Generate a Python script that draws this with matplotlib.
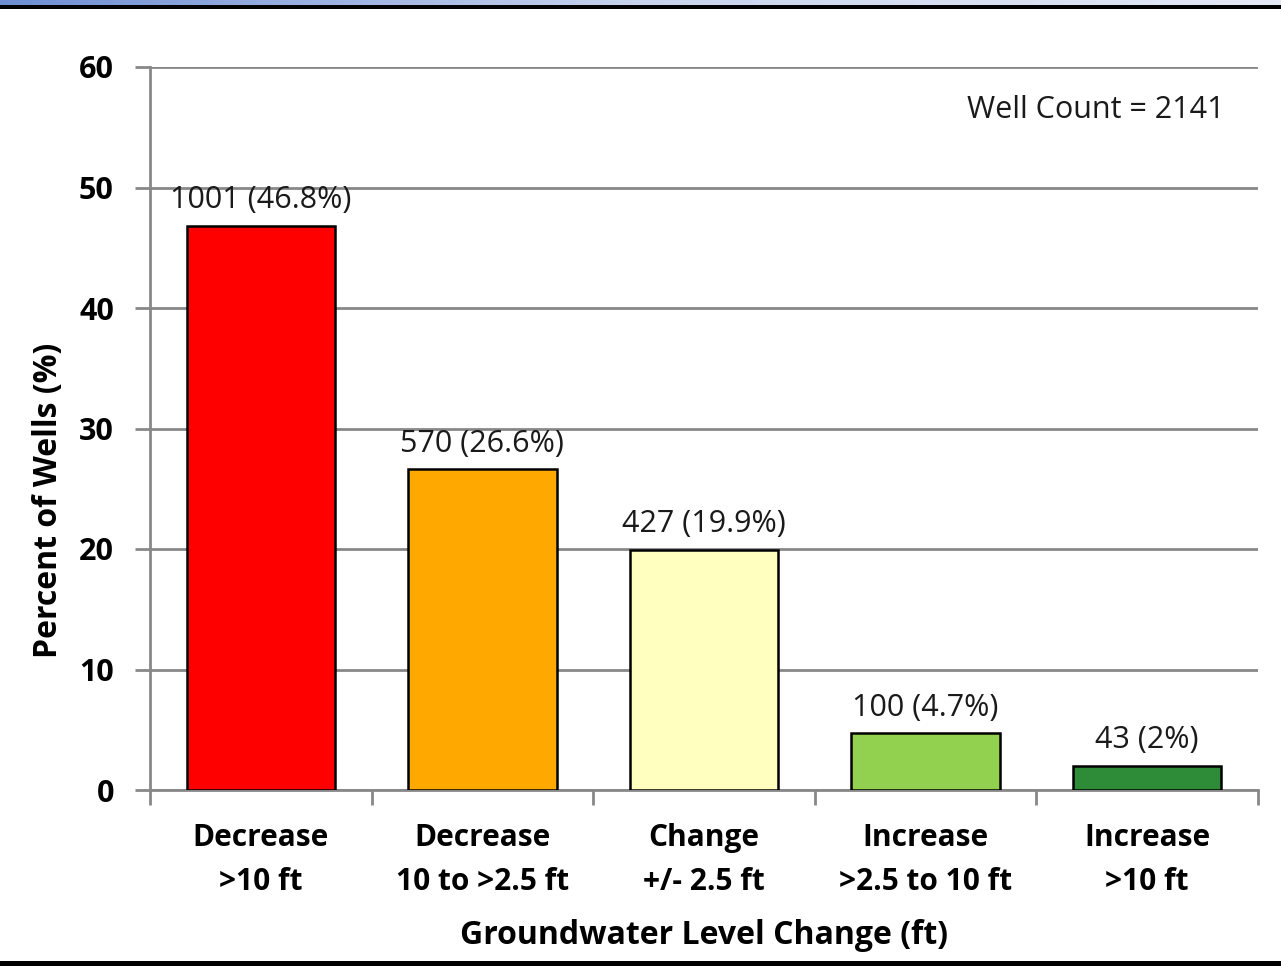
import numpy as np
import matplotlib.pyplot as plt
from matplotlib.patches import Rectangle
from matplotlib.colors import LinearSegmentedColormap

categories = ["Decrease\n>10 ft", "Decrease\n10 to >2.5 ft", "Change\n+/- 2.5 ft",
              "Increase\n>2.5 to 10 ft", "Increase\n>10 ft"]
percents = [46.8, 26.6, 19.9, 4.7, 2.0]
counts = [1001, 570, 427, 100, 43]
pct_labels = ["46.8%", "26.6%", "19.9%", "4.7%", "2%"]
colors = ["#FF0000", "#FFA800", "#FFFFC0", "#92D050", "#2E8B38"]
well_count = 2141

plt.rcParams['font.family'] = ['Open Sans', 'DejaVu Sans']

fig = plt.figure(figsize=(12.81, 9.66), dpi=100)
W, H = 1281, 966

# top banner: gradient strip and black rule
band = fig.add_axes([0, 1 - 5 / H, 1, 5 / H])
grad = np.linspace(0, 1, 256).reshape(1, -1)
band.imshow(grad, aspect='auto', extent=[0, 1, 0, 1],
            cmap=LinearSegmentedColormap.from_list("b", ["#6F8FD4", "#C8D4EE", "#E4E9F6"]))
band.axis('off')
fig.patches.append(Rectangle((0, 1 - 9 / H), 1, 4 / H, transform=fig.transFigure,
                             facecolor='black', edgecolor='none'))
fig.patches.append(Rectangle((0, 0), 1, 5 / H, transform=fig.transFigure,
                             facecolor='black', edgecolor='none'))

ax = fig.add_axes([150 / W, 1 - 790 / H, 1108 / W, 723 / H])
x = np.arange(len(categories))
ax.bar(x, percents, width=0.67, color=colors, edgecolor='black', linewidth=1.8, zorder=3)

for xi, p, c, lab in zip(x, percents, counts, pct_labels):
    ax.text(xi, p + 0.9, f"{c} ({lab})", ha='center', va='bottom', fontsize=22, color='#1a1a1a')

ax.set_xlim(-0.5, len(categories) - 0.5)
ax.set_ylim(0, 60)
ax.set_yticks(np.arange(0, 61, 10))
ax.grid(axis='y', color='#888888', linewidth=2, zorder=0)
ax.set_axisbelow(True)

ax.set_xticks(np.arange(-0.5, len(categories), 1))
ax.set_xticklabels([])
ax.set_xticks(x, minor=True)
ax.set_xticklabels(categories, minor=True, fontsize=21.5, fontweight='bold', linespacing=1.6)
ax.tick_params(axis='x', which='major', length=11, width=2, color='#888888', direction='out')
ax.tick_params(axis='x', which='minor', length=0, pad=24)
ax.tick_params(axis='y', length=11, width=2, color='#888888', labelsize=22, pad=15)
for t in ax.get_yticklabels():
    t.set_fontweight('bold')

for s in ['top', 'right']:
    ax.spines[s].set_visible(False)
for s in ['left', 'bottom']:
    ax.spines[s].set_color('#888888')
    ax.spines[s].set_linewidth(2)

ax.set_ylabel("Percent of Wells (%)", fontsize=23, fontweight='bold', va='center')
ax.yaxis.set_label_coords(-0.092, 0.40)
ax.set_xlabel("Groundwater Level Change (ft)", fontsize=23, fontweight='bold', va='center')
ax.xaxis.set_label_coords(0.50, -0.2006)

ax.text(0.970, 0.9405, f"Well Count = {well_count}", transform=ax.transAxes,
        ha='right', va='center', fontsize=22, color='#1a1a1a')

fig.savefig("out.png", dpi=100)
